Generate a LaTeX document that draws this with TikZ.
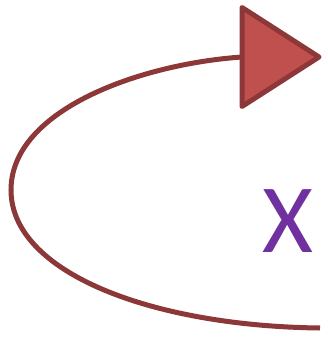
\documentclass[tikz,border=0pt]{standalone}
\usepackage{fontspec}
\setmainfont{Carlito}
\usetikzlibrary{shapes.geometric}

\definecolor{curvered}{RGB}{140,56,56}
\definecolor{tipred}{RGB}{192,80,77}
\definecolor{letterpurple}{RGB}{112,48,160}

\tikzset{
  turnline/.style={draw=curvered, line width=5pt},
  headtip/.style={isosceles triangle, isosceles triangle stretches,
    draw=curvered, fill=tipred, line width=5pt, inner sep=0pt, outer sep=0pt,
    minimum width=99pt, minimum height=77pt, line join=round},
  letter/.style={text=letterpurple, inner sep=0pt, font=\fontsize{98}{98}\selectfont}
}

\begin{document}
\begin{tikzpicture}[x=1pt, y=-1pt]
        \useasboundingbox (0,0) rectangle (327,339);

        % curved turn ending in the big arrow head
        \coordinate (start) at (320,328);
        \node[headtip, anchor=apex] (head) at (319,57) {};
        \draw[turnline] (start) .. controls (150,326) and (11,272) .. (11,190)
            .. controls (11,110) and (140,64) .. (head.west);

        \node[letter] (mark) at (288,221) {X};
    \end{tikzpicture}
\end{document}
